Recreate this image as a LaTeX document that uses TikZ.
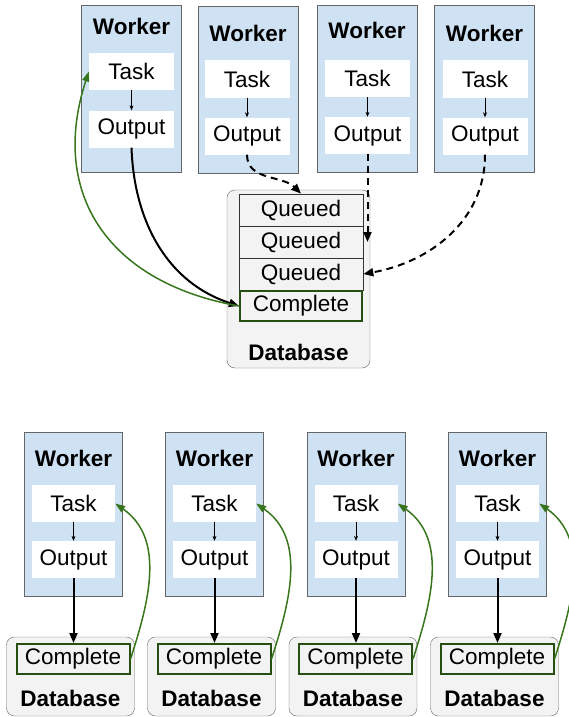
\documentclass[tikz,border=0pt]{standalone}
\usepackage{fontspec}
\setmainfont{Liberation Sans}
\usetikzlibrary{arrows.meta}

\definecolor{workerblue}{HTML}{CFE2F3}
\definecolor{boxgray}{HTML}{666666}
\definecolor{dbgray}{HTML}{F3F3F3}
\definecolor{loopgreen}{HTML}{38761D}
\definecolor{donegreen}{HTML}{274E13}

\tikzset{
  worker/.style={draw=boxgray, fill=workerblue, minimum width=100pt, minimum height=167pt, inner sep=0pt},
  cell/.style={fill=white, minimum width=85pt, minimum height=37pt, inner sep=0pt},
  dbbox/.style={draw=boxgray, fill=dbgray, rounded corners=8pt, inner sep=0pt},
  queued/.style={draw=black!80, line width=0.7pt, minimum width=124pt, minimum height=32pt, inner sep=0pt},
  done/.style={draw=donegreen, line width=2pt, minimum width=122pt, minimum height=30pt, inner sep=0pt},
  title/.style={font=\fontsize{22.5}{26}\selectfont\bfseries},
  step arrow/.style={line width=0.6pt, -{Stealth[length=5pt,width=4pt]}},
  flow/.style={line width=2pt, -{Triangle[length=10pt,width=8pt]}},
  pending/.style={line width=2pt, dash pattern=on 7pt off 5pt, -{Triangle[length=10pt,width=8pt]}},
  back/.style={draw=loopgreen, line width=1.5pt, -{Triangle[length=10pt,width=7pt]}}
}

\begin{document}
\begin{tikzpicture}[x=1pt, y=1pt, font=\fontsize{22.5}{26}\selectfont]
  \useasboundingbox (0,0) rectangle (569,-717);

  % top: four workers sharing one database
  \node[worker] (w1) at (131.5,-89) {};
  \node[title] at (131.5,-26) {Worker};
  \node[cell] (t1) at (131.5,-71.5) {Task};
  \node[cell] (o1) at (131.5,-129) {Output};

  \node[worker] (w2) at (248,-89.5) {};
  \node[title] at (248,-33) {Worker};
  \node[cell] (t2) at (247,-79) {Task};
  \node[cell] (o2) at (247,-136) {Output};

  \node[worker] (w3) at (367,-88.5) {};
  \node[title] at (367,-30) {Worker};
  \node[cell] (t3) at (367.5,-78.5) {Task};
  \node[cell] (o3) at (367.5,-135.5) {Output};

  \node[worker] (w4) at (484.5,-89) {};
  \node[title] at (484.5,-33) {Worker};
  \node[cell] (t4) at (485,-79) {Task};
  \node[cell] (o4) at (485,-136) {Output};

  \node[dbbox, minimum width=143pt, minimum height=178pt] (db) at (298.5,-279) {};
  \node[queued] (q1) at (301,-210) {Queued};
  \node[queued] (q2) at (301,-242) {Queued};
  \node[queued] (q3) at (301,-274) {Queued};
  \node[done] (fin) at (301,-306) {Complete};
  \node[title] at (298.5,-352) {Database};

  \foreach \k in {1,2,3,4}
    \draw[step arrow] (t\k) -- (o\k);

  \draw[flow] (o1.south) to[out=-88, in=162] (fin.west);
  \draw[back] (fin.west) to[out=170, in=-108, looseness=1.2] (t1.west);
  \draw[pending] (o2.south) to[out=-90, in=135] (q1.north);
  \draw[pending] (o3.south) -- (o3.south |- q2.east);
  \draw[pending] (o4.south) to[out=-90, in=10] (q3.east);

  % bottom: every worker with its own database
  \foreach \i/\x in {1/73.5, 2/214.5, 3/356, 4/497.5} {
    \node[worker, minimum width=98pt, minimum height=164pt] (bw\i) at (\x,-514) {};
    \node[title] at (\x,-458) {Worker};
    \node[cell, minimum width=83pt] (bt\i) at (\x,-503.5) {Task};
    \node[cell, minimum width=83pt] (bo\i) at (\x,-559.5) {Output};
    \node[dbbox, minimum width=128pt, minimum height=79pt] (bdb\i) at (\x-3,-676.5) {};
    \node[done, minimum width=113pt, minimum height=30pt] (bc\i) at (\x-0.5,-659) {Complete};
    \node[title] at (\x-3,-698) {Database};
    \draw[step arrow] (bt\i) -- (bo\i);
    \draw[flow] (bo\i.south) -- (bo\i.south |- bc\i.north);
    \draw[back] (bc\i.east) to[out=72, in=-35] (bt\i.east);
  }
\end{tikzpicture}
\end{document}
